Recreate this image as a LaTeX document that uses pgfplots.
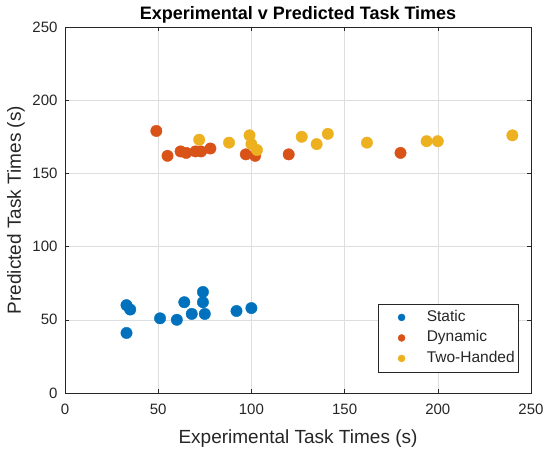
\documentclass[border=0pt]{standalone}
\usepackage{pgfplots}
\pgfplotsset{compat=1.18}
\usetikzlibrary{calc}
\usepackage{fontspec}
\setmainfont{Liberation Sans}

\definecolor{mblue}{rgb}{0,0.447,0.741}
\definecolor{morange}{rgb}{0.85,0.325,0.098}
\definecolor{myellow}{rgb}{0.929,0.694,0.125}
\definecolor{axgray}{rgb}{0.15,0.15,0.15}

\begin{document}
\begin{tikzpicture}
\begin{axis}[
  name=ax,
  scale only axis,
  width=466pt, height=366pt,
  xmin=0, xmax=250, ymin=0, ymax=250,
  xtick={0,50,...,250}, ytick={0,50,...,250},
  grid=major,
  major grid style={draw=black!13},
  axis line style={draw=axgray},
  tick style={draw=axgray},
  tick align=inside,
  major tick length=4pt,
  ticklabel style={font=\fontsize{15}{15}\selectfont, text=axgray},
  xticklabel style={yshift=-7pt},
  yticklabel style={xshift=-4pt},
  /pgf/number format/assume math mode=true,
  xlabel={Experimental Task Times (s)},
  ylabel={Predicted Task Times (s)},
  label style={font=\fontsize{19}{19}\selectfont, text=axgray},
  xlabel style={at={(axis description cs:0.5,0)}, anchor=center, yshift=-46pt},
  ylabel style={at={(axis description cs:0,0.5)}, anchor=center, yshift=49pt},
  title={\bfseries Experimental v Predicted Task Times},
  title style={at={(axis description cs:0.5,1)}, anchor=base, yshift=1pt,
    font=\fontsize{18}{18}\selectfont},
  legend style={at={(0.974,0.057)}, anchor=south east, draw=axgray,
    font=\fontsize{15.5}{15.5}\selectfont, text=axgray, inner xsep=1pt, inner ysep=3.25pt,
    row sep=0pt, nodes={inner sep=3pt, text height=11pt, text depth=3.5pt}},
  legend cell align=left,
  legend image code/.code={\path (0pt,0pt) (44pt,0pt); \fill[#1] (22pt,0pt) circle (3.5pt);},
  every axis plot/.append style={only marks, mark=*, mark size=5.7pt},
]
\addplot[mblue, mark options={draw=mblue, fill=mblue}] coordinates {
  (33,60) (35,57) (33,41) (51,51) (60,50) (64,62) (68,54)
  (74,69) (74,62) (75,54) (92,56) (100,58)
};
\addlegendentry{Static}
\addplot[morange, mark options={draw=morange, fill=morange}] coordinates {
  (49,179) (55,162) (62,165) (65,164) (70,165) (73,165) (78,167)
  (97,163) (102,162) (120,163) (180,164)
};
\addlegendentry{Dynamic}
\addplot[myellow, mark options={draw=myellow, fill=myellow}] coordinates {
  (72,173) (88,171) (99,176) (100,170) (103,166) (127,175) (135,170)
  (141,177) (162,171) (194,172) (200,172) (240,176)
};
\addlegendentry{Two-Handed}
\end{axis}
\pgfresetboundingbox
\path ($(ax.south west)+(-65pt,-56pt)$) rectangle ($(ax.north east)+(16pt,27pt)$);
\end{tikzpicture}
\end{document}
